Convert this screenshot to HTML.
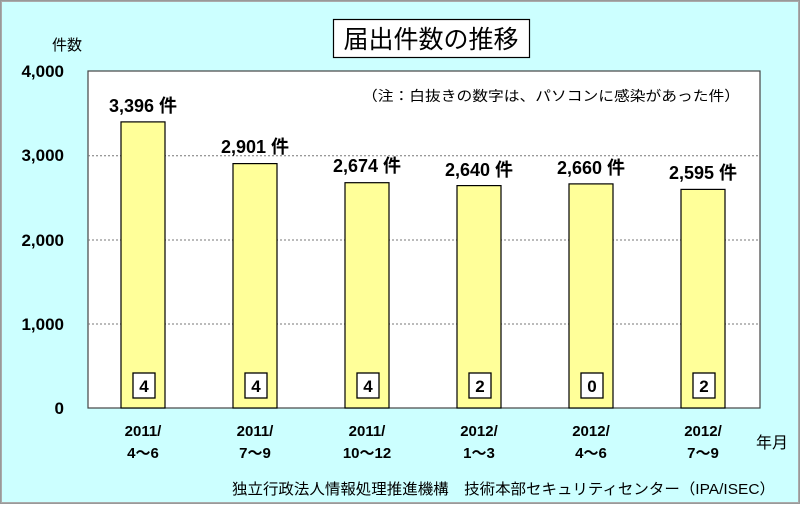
<!DOCTYPE html>
<html><head><meta charset="utf-8"><style>
body{margin:0;width:800px;height:504px;overflow:hidden;background:#fff}
svg text{font-family:"Liberation Sans","Noto Sans CJK JP",sans-serif}
</style></head><body>
<svg width="800" height="504" xmlns="http://www.w3.org/2000/svg">
<rect x="0.5" y="0.5" width="799" height="503" fill="#ccffff" stroke="#999" stroke-width="1"/>
<rect x="1.5" y="1.5" width="797" height="501" fill="none" stroke="#aaa" stroke-width="1"/>
<rect x="88" y="71" width="672" height="337" fill="#fff" stroke="#444" stroke-width="1.2"/>
<line x1="88" y1="155.75" x2="760" y2="155.75" stroke="#777" stroke-dasharray="2,2"/>
<line x1="88" y1="240" x2="760" y2="240" stroke="#777" stroke-dasharray="2,2"/>
<line x1="88" y1="324" x2="760" y2="324" stroke="#777" stroke-dasharray="2,2"/>
<rect x="333.5" y="19.5" width="196" height="38" fill="#fff" stroke="#000" stroke-width="1.2"/>
<text x="431" y="48" font-size="25" text-anchor="middle">届出件数の推移</text>
<text x="67" y="50" font-size="15" text-anchor="middle">件数</text>
<g font-size="17" font-weight="bold" text-anchor="end">
<text x="64" y="77">4,000</text><text x="64" y="161">3,000</text><text x="64" y="246">2,000</text><text x="64" y="330">1,000</text><text x="64" y="414">0</text>
</g>
<text x="362" y="101" font-size="14" textLength="378" lengthAdjust="spacingAndGlyphs">（注：白抜きの数字は、パソコンに感染があった件）</text>
<g stroke="#000" stroke-width="1.2" fill="#ffff99">
<rect x="121" y="121.9" width="44" height="286.1"/>
<rect x="233" y="163.6" width="44" height="244.4"/>
<rect x="345" y="182.7" width="44" height="225.3"/>
<rect x="457" y="185.6" width="44" height="222.4"/>
<rect x="569" y="183.9" width="44" height="224.1"/>
<rect x="681" y="189.4" width="44" height="218.6"/>
</g>
<g font-size="18" font-weight="bold" text-anchor="middle">
<text x="143" y="112">3,396 件</text>
<text x="255" y="153">2,901 件</text>
<text x="367" y="172">2,674 件</text>
<text x="479" y="176">2,640 件</text>
<text x="591" y="174">2,660 件</text>
<text x="703" y="179">2,595 件</text>
</g>
<g stroke="#000" stroke-width="1.3" fill="#fff">
<rect x="133" y="373" width="22" height="25"/><rect x="245" y="373" width="22" height="25"/><rect x="357" y="373" width="22" height="25"/>
<rect x="469" y="373" width="22" height="25"/><rect x="581" y="373" width="22" height="25"/><rect x="693" y="373" width="22" height="25"/>
</g>
<g font-size="17" font-weight="bold" text-anchor="middle">
<text x="144" y="392">4</text><text x="256" y="392">4</text><text x="368" y="392">4</text>
<text x="480" y="392">2</text><text x="592" y="392">0</text><text x="704" y="392">2</text>
</g>
<g font-size="15" font-weight="bold" text-anchor="middle">
<text x="143" y="436">2011/</text><text x="143" y="458">4～6</text>
<text x="255" y="436">2011/</text><text x="255" y="458">7～9</text>
<text x="367" y="436">2011/</text><text x="367" y="458">10～12</text>
<text x="479" y="436">2012/</text><text x="479" y="458">1～3</text>
<text x="591" y="436">2012/</text><text x="591" y="458">4～6</text>
<text x="703" y="436">2012/</text><text x="703" y="458">7～9</text>
</g>
<text x="772" y="448" font-size="16" text-anchor="middle">年月</text>
<text x="232" y="494" font-size="15" textLength="543" lengthAdjust="spacingAndGlyphs">独立行政法人情報処理推進機構　技術本部セキュリティセンター（IPA/ISEC）</text>
</svg>
</body></html>
